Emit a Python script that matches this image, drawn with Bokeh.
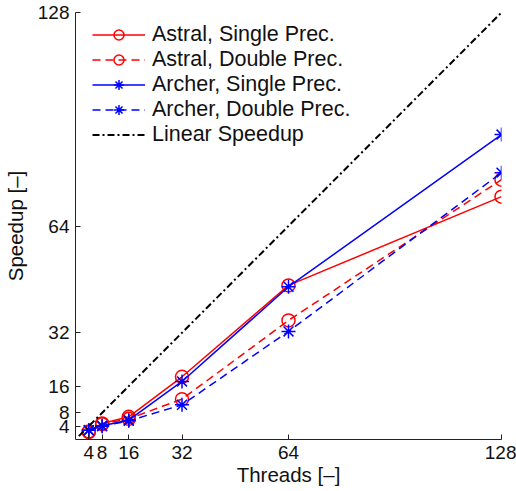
from bokeh.plotting import figure
from bokeh.models import Range1d, FixedTicker, Legend, LegendItem
from bokeh.embed import file_html
from bokeh.resources import INLINE

# Measured parallel speedup per thread count
threads = [4, 8, 16, 32, 64, 128]
astral_single = [2.4, 4.8, 6.8, 18.8, 46.2, 72.8]
astral_double = [2.2, 4.6, 6.2, 12.1, 35.7, 77.9]
archer_single = [2.8, 4.1, 5.8, 17.4, 45.8, 91.4]
archer_double = [2.8, 4.0, 5.6, 10.4, 32.4, 80.0]
linear_threads = [1, 128]
linear_speedup = [1, 128]
tick_values = [4, 8, 16, 32, 64, 128]

FONT = "Liberation Sans"
TICK_FS = "19px"
LABEL_FS = "20.5px"
LEGEND_FS = "21.5px"

p = figure(width=516, height=491, output_backend="svg", toolbar_location=None,
           x_range=Range1d(0, 128), y_range=Range1d(0, 128),
           min_border_left=75, min_border_right=15, min_border_top=12, min_border_bottom=52)
p.outline_line_color = None
p.grid.visible = False
p.background_fill_color = "white"
p.border_fill_color = "white"

for ax in (p.xaxis[0], p.yaxis[0]):
    ax.ticker = FixedTicker(ticks=tick_values)
    ax.major_tick_in = 5
    ax.major_tick_out = 0
    ax.minor_tick_line_color = None
    ax.axis_line_color = "#222222"
    ax.major_tick_line_color = "#222222"
    ax.major_label_text_font = FONT
    ax.major_label_text_font_size = TICK_FS
    ax.major_label_text_color = "#111111"
    ax.axis_label_text_font = FONT
    ax.axis_label_text_font_size = LABEL_FS
    ax.axis_label_text_font_style = "normal"
    ax.axis_label_text_color = "#111111"

p.xaxis.axis_label = "Threads [\u2013]"
p.yaxis.axis_label = "Speedup [\u2013]"
p.xaxis.major_label_standoff = 6
p.xaxis.axis_label_standoff = 1
p.yaxis.major_label_standoff = 6
p.yaxis.axis_label_standoff = 8

RED = "#ff0000"
BLUE = "#0000ff"
LW = 1.5
DASH = "8 5"

l1 = p.line(threads, astral_single, line_color=RED, line_width=LW)
m1 = p.scatter(threads, astral_single, marker="circle", size=13, fill_color=None,
               line_color=RED, line_width=LW)
l2 = p.line(threads, astral_double, line_color=RED, line_width=LW, line_dash=DASH)
m2 = p.scatter(threads, astral_double, marker="circle", size=13, fill_color=None,
               line_color=RED, line_width=LW)
l3 = p.line(threads, archer_single, line_color=BLUE, line_width=LW)
m3 = p.scatter(threads, archer_single, marker="asterisk", size=14,
               line_color=BLUE, line_width=LW)
l4 = p.line(threads, archer_double, line_color=BLUE, line_width=LW, line_dash=DASH)
m4 = p.scatter(threads, archer_double, marker="asterisk", size=14,
               line_color=BLUE, line_width=LW)
l5 = p.line(linear_threads, linear_speedup, line_color="black", line_width=2,
            line_dash="7 3 2 3")

legend = Legend(items=[
    LegendItem(label="Astral, Single Prec.", renderers=[l1, m1]),
    LegendItem(label="Astral, Double Prec.", renderers=[l2, m2]),
    LegendItem(label="Archer, Single Prec.", renderers=[l3, m3]),
    LegendItem(label="Archer, Double Prec.", renderers=[l4, m4]),
    LegendItem(label="Linear Speedup", renderers=[l5]),
], location=(17, 292))
legend.border_line_color = None
legend.background_fill_alpha = 0
legend.label_text_font = FONT
legend.label_text_font_size = LEGEND_FS
legend.label_text_color = "#111111"
legend.glyph_width = 53
legend.glyph_height = 25
legend.label_height = 25
legend.spacing = 0
legend.label_standoff = 7
legend.margin = 0
legend.padding = 5
p.add_layout(legend)

open("out.html", "w").write(file_html(p, INLINE))
